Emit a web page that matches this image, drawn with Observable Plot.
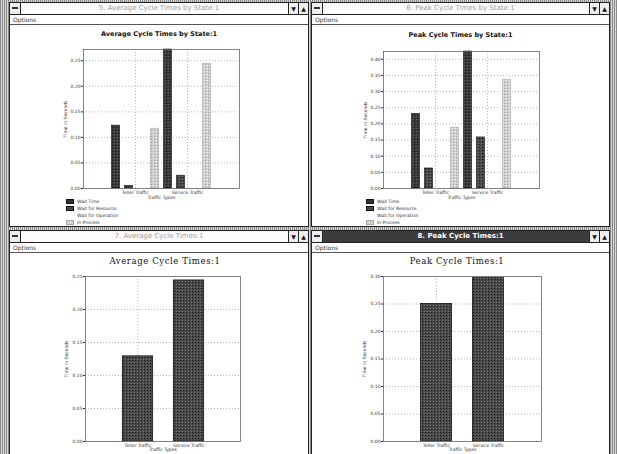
<!DOCTYPE html>
<html><head><meta charset="utf-8">
<script src="https://cdn.jsdelivr.net/npm/d3@7"></script>
<script src="https://cdn.jsdelivr.net/npm/@observablehq/plot@0.6"></script>
<style>
body{margin:0;width:617px;height:454px;overflow:hidden;position:relative;font-family:"DejaVu Sans",sans-serif;
 background:repeating-linear-gradient(90deg,#8a8a8a 0 1px,#d8d8d8 1px 2px);}
.win{position:absolute;background:#fff;border:1px solid #222;box-sizing:border-box;overflow:hidden}
.tbar{height:11px;border-bottom:1px solid #222;position:relative;background:#fbfbfb;color:#a0a0a0;font-size:7px;text-align:center;line-height:11px;white-space:nowrap}
.active .tbar{background:#3c3c3c;color:#fff;font-weight:bold}
.sys{position:absolute;left:0;top:0;width:11px;height:11px;border-right:1px solid #222;background:#eee;box-sizing:border-box}
.sys:after{content:"";position:absolute;left:2px;top:4px;width:6px;height:2px;background:#333}
.btn{position:absolute;top:0;width:10px;height:11px;border-left:1px solid #222;background:#eee;color:#111;font-size:6px;line-height:11px;text-align:center;box-sizing:border-box}
.menu{height:9px;border-bottom:1px solid #555;font-size:6px;padding-left:3px;line-height:9px;color:#333}
.abs{position:absolute}
.ctitle{position:absolute;font-size:6.5px;color:#111;text-align:center;white-space:nowrap;font-weight:bold}
.btitle{font-family:"DejaVu Serif",serif;font-size:8.5px;letter-spacing:0.6px;font-weight:normal}
.legend{position:absolute;font-size:4.5px;color:#333;line-height:7px}
.legend div{display:flex;align-items:center}
.sw{display:inline-block;width:8px;height:5px;margin-right:3px;box-sizing:border-box}
</style></head>
<body>
<svg width="1" height="1" style="position:absolute;left:0;top:0">
 <defs>
  <pattern id="pDark" width="3" height="3" patternUnits="userSpaceOnUse">
   <rect width="3" height="3" fill="#3a3a3a"/><rect x="0" y="0" width="1" height="1" fill="#151515"/><rect x="2" y="1" width="1" height="1" fill="#666"/>
  </pattern>
  <pattern id="pMid" width="3" height="3" patternUnits="userSpaceOnUse">
   <rect width="3" height="3" fill="#484848"/><rect x="1" y="1" width="1" height="1" fill="#7a7a7a"/><rect x="2" y="2" width="1" height="1" fill="#1a1a1a"/>
  </pattern>
  <pattern id="pLight" width="3" height="3" patternUnits="userSpaceOnUse">
   <rect width="3" height="3" fill="#d0d0d0"/><rect x="0" y="0" width="1" height="1" fill="#999"/><rect x="2" y="1" width="1" height="1" fill="#f2f2f2"/>
  </pattern>
 </defs>
</svg>

<div class="win" style="left:9px;top:2px;width:300px;height:225px">
 <div class="tbar"><div class="sys"></div>5. Average Cycle Times by State:1<div class="btn" style="right:10px">▼</div><div class="btn" style="right:0">▲</div></div>
 <div class="menu">Options</div>
</div>
<div class="win" style="left:311px;top:2px;width:299px;height:225px">
 <div class="tbar"><div class="sys"></div>6. Peak Cycle Times by State:1<div class="btn" style="right:10px">▼</div><div class="btn" style="right:0">▲</div></div>
 <div class="menu">Options</div>
</div>
<div class="win" style="left:9px;top:230px;width:300px;height:226px">
 <div class="tbar"><div class="sys"></div>7. Average Cycle Times:1<div class="btn" style="right:10px">▼</div><div class="btn" style="right:0">▲</div></div>
 <div class="menu">Options</div>
</div>
<div class="win active" style="left:311px;top:230px;width:299px;height:226px">
 <div class="tbar"><div class="sys"></div>8. Peak Cycle Times:1<div class="btn" style="right:10px">▼</div><div class="btn" style="right:0">▲</div></div>
 <div class="menu">Options</div>
</div>

<div class="ctitle" style="left:10px;width:298px;top:30px">Average Cycle Times by State:1</div>
<div class="ctitle" style="left:312px;width:297px;top:31px">Peak Cycle Times by State:1</div>
<div class="ctitle btitle" style="left:10px;width:310px;top:256px">Average Cycle Times:1</div>
<div class="ctitle btitle" style="left:312px;width:290px;top:256px">Peak Cycle Times:1</div>

<div id="c1" class="abs" style="left:10px;top:40px"></div>
<div id="c2" class="abs" style="left:312px;top:40px"></div>
<div id="c3" class="abs" style="left:10px;top:268px"></div>
<div id="c4" class="abs" style="left:312px;top:268px"></div>
<div id="l1" class="legend" style="left:66px;top:198px"></div>
<div id="l2" class="legend" style="left:366px;top:198px"></div>

<script>
// ---- data ----
const categories = ["Teller Traffic", "Service Traffic"];
const states = ["Wait Time", "Wait for Resource", "Wait for Operation", "In Process"];
const stateFills = ["url(#pDark)", "url(#pMid)", "#ffffff", "url(#pLight)"];
const stateStrokes = ["#111", "#111", "none", "#aaa"];

const avgStateTeller  = [0.123, 0.005, 0, 0.117];
const avgStateService = [0.272, 0.025, 0, 0.244];
const peakStateTeller  = [0.231, 0.062, 0, 0.188];
const peakStateService = [0.424, 0.158, 0, 0.336];

const avgCycle  = [0.129, 0.244];
const peakCycle = [0.250, 0.297];

const ticksAvgState  = [0, 0.05, 0.10, 0.15, 0.20, 0.25];
const ticksPeakState = [0, 0.05, 0.10, 0.15, 0.20, 0.25, 0.30, 0.35, 0.40];
const ticksAvgCycle  = [0, 0.05, 0.10, 0.15, 0.20, 0.25];
const ticksPeakCycle = [0, 0.05, 0.10, 0.15, 0.20, 0.25, 0.30];

const fmt = d3.format(".2f");

function baseMarks(ticks) {
  return [
    Plot.ruleY(ticks, {stroke: "#888", strokeDasharray: "1,2", strokeWidth: 0.6}),
    Plot.ruleX(categories, {x: d => d, stroke: "#888", strokeDasharray: "1,2", strokeWidth: 0.6})
  ];
}

function makePlot({width, height, ml, mr, mt, mb, ticks, ymax, marks, labelOffsetY, xLabelOffset}) {
  const fw = width - ml - mr;
  return Plot.plot({
    width, height, marginLeft: ml, marginRight: mr, marginTop: mt, marginBottom: mb,
    style: {fontFamily: "DejaVu Sans, sans-serif", fontSize: "4.5px", color: "#333", background: "transparent", overflow: "visible"},
    x: {domain: categories, padding: 0, insetLeft: fw / 6, insetRight: fw / 6,
        label: "Traffic Types", labelAnchor: "center", labelOffset: xLabelOffset, tickSize: 0, tickPadding: 2},
    y: {domain: [0, ymax], ticks, tickFormat: fmt, tickSize: 2, tickPadding: 1,
        label: "Time in Seconds", labelArrow: "none", labelAnchor: "center", labelOffset: labelOffsetY},
    marks: [
      ...baseMarks(ticks),
      ...marks,
      Plot.frame({stroke: "#666", strokeWidth: 0.8})
    ]
  });
}

function stateMarks(tellerVals, serviceVals, fw) {
  const bw = fw * 2 / 3 / 2;   // band width
  const sub = bw / 4;
  const pad = sub * 0.19;
  return states.map((s, j) => Plot.barY(
    categories.map((c, i) => ({cat: c, v: (i === 0 ? tellerVals : serviceVals)[j]})),
    {x: "cat", y: "v", fill: stateFills[j], stroke: stateStrokes[j], strokeWidth: 0.6,
     insetLeft: j * sub + pad, insetRight: (3 - j) * sub + pad}
  ));
}

function cycleMarks(vals, fw) {
  const bw = fw * 2 / 3 / 2;
  return [Plot.barY(categories.map((c, i) => ({cat: c, v: vals[i]})),
    {x: "cat", y: "v", fill: "url(#pMid)", stroke: "#111", strokeWidth: 0.8,
     insetLeft: bw * 0.2, insetRight: bw * 0.2})];
}

// top-left
{
  const width = 298, height = 170, ml = 73, mr = 69;
  document.getElementById("c1").append(makePlot({width, height, ml, mr, mt: 9, mb: 22,
    ticks: ticksAvgState, ymax: d3.max([...avgStateTeller, ...avgStateService]),
    marks: stateMarks(avgStateTeller, avgStateService, width - ml - mr), labelOffsetY: 20, xLabelOffset: 10}));
}
// top-right
{
  const width = 297, height = 170, ml = 71, mr = 70;
  document.getElementById("c2").append(makePlot({width, height, ml, mr, mt: 11, mb: 22,
    ticks: ticksPeakState, ymax: d3.max([...peakStateTeller, ...peakStateService]),
    marks: stateMarks(peakStateTeller, peakStateService, width - ml - mr), labelOffsetY: 20, xLabelOffset: 10}));
}
// bottom-left
{
  const width = 298, height = 186, ml = 75, mr = 68;
  document.getElementById("c3").append(makePlot({width, height, ml, mr, mt: 8, mb: 13,
    ticks: ticksAvgCycle, ymax: 0.25,
    marks: cycleMarks(avgCycle, width - ml - mr), labelOffsetY: 21, xLabelOffset: 9}));
}
// bottom-right
{
  const width = 297, height = 186, ml = 71, mr = 68;
  document.getElementById("c4").append(makePlot({width, height, ml, mr, mt: 8, mb: 13,
    ticks: ticksPeakCycle, ymax: 0.30,
    marks: cycleMarks(peakCycle, width - ml - mr), labelOffsetY: 21, xLabelOffset: 9}));
}

// legends
for (const id of ["l1", "l2"]) {
  const el = document.getElementById(id);
  states.forEach((s, j) => {
    const row = document.createElement("div");
    const sw = document.createElement("span");
    sw.className = "sw";
    sw.style.background = j === 0 ? "#333" : j === 1 ? "#4a4a4a" : j === 2 ? "#fff" : "#d0d0d0";
    if (j !== 2) sw.style.border = "0.5px solid " + (j === 3 ? "#aaa" : "#111");
    row.append(sw, document.createTextNode(s));
    el.append(row);
  });
}
</script>
</body></html>
